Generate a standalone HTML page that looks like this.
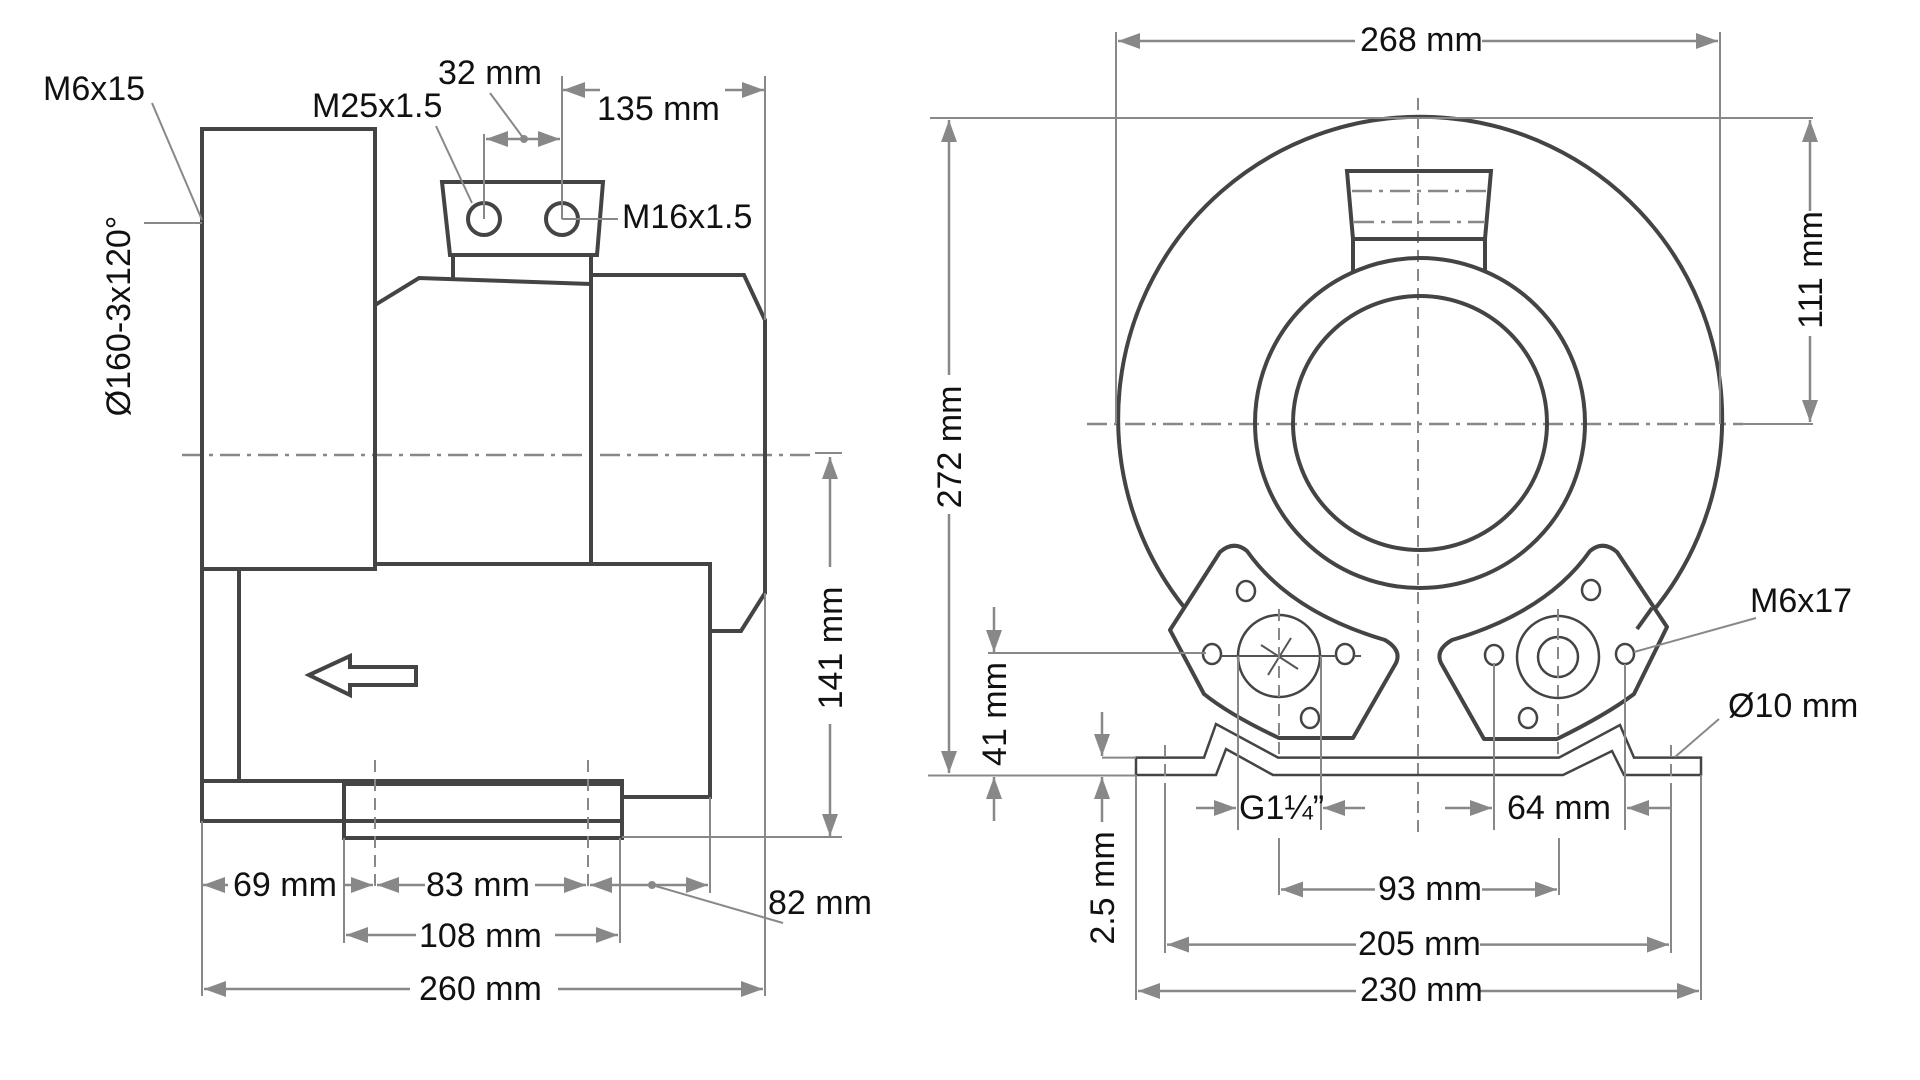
<!DOCTYPE html>
<html><head><meta charset="utf-8"><style>
html,body{margin:0;padding:0;background:#fff;width:1920px;height:1080px;overflow:hidden}
svg{display:block}
text{font-family:"Liberation Sans",Arial,sans-serif;font-size:34px;fill:#111}
.o{fill:none;stroke:#444;stroke-width:4;stroke-linejoin:miter}
.ow{fill:#fff;stroke:#444;stroke-width:4;stroke-linejoin:round}
.t{fill:none;stroke:#555;stroke-width:2}
.d{fill:none;stroke:#888;stroke-width:2}
.c{fill:none;stroke:#888;stroke-width:2.5;stroke-dasharray:20 7 4 7}
.k{fill:none;stroke:#888;stroke-width:2;stroke-dasharray:12 7}
.a{fill:none;stroke:#888;stroke-width:2.5;marker-end:url(#ar)}
</style></head><body>
<svg width="1920" height="1080" viewBox="0 0 1920 1080" xmlns="http://www.w3.org/2000/svg">
<defs><marker id="ar" markerUnits="userSpaceOnUse" markerWidth="24" markerHeight="16" refX="22" refY="8" orient="auto"><path d="M0,0 L22,8 L0,16 Z" fill="#888"/></marker></defs>

<!-- ===== LEFT VIEW ===== -->
<line class="c" x1="182" y1="455" x2="815" y2="455"/>
<line class="d" x1="815" y1="453" x2="842" y2="453"/>
<rect class="o" x="202" y="129" width="173" height="440"/>
<rect class="o" x="202" y="569" width="37" height="212"/>
<polyline class="o" points="375,564 710,564 710,797 622,797"/>
<polyline class="o" points="375,569 375,305 419,278 591,284"/>
<line class="o" x1="591" y1="275" x2="591" y2="564"/>
<polyline class="o" points="591,275 744,275 765,320 765,593 741,631 710,631"/>
<line class="o" x1="453" y1="255" x2="453" y2="280"/>
<line class="o" x1="591" y1="255" x2="591" y2="284"/>
<polygon class="o" points="442,182 603,182 597,255 450,255"/>
<circle class="o" cx="484" cy="219" r="16"/>
<circle class="o" cx="562" cy="219" r="16"/>
<rect class="o" x="202" y="781" width="420" height="40"/>
<rect class="o" x="344" y="784" width="278" height="54"/>
<polygon class="o" points="309,675 350,656 350,667 416,667 416,685 350,685 350,695"/>
<line class="k" x1="375" y1="760" x2="375" y2="893"/>
<line class="k" x1="588" y1="760" x2="588" y2="893"/>

<!-- left dims -->
<line class="d" x1="484" y1="134" x2="484" y2="219"/>
<line class="d" x1="562" y1="76" x2="562" y2="219"/>
<line class="d" x1="765" y1="76" x2="765" y2="320"/>
<line class="a" x1="524" y1="139" x2="486" y2="139"/>
<line class="a" x1="524" y1="139" x2="560" y2="139"/>
<circle cx="524" cy="139" r="4" fill="#888"/>
<line class="d" x1="524" y1="139" x2="490" y2="93"/>
<line class="a" x1="600" y1="90" x2="563" y2="90"/>
<line class="a" x1="725" y1="90" x2="764" y2="90"/>
<line class="d" x1="436" y1="126" x2="472" y2="203"/>
<line class="d" x1="562" y1="219" x2="618" y2="219"/>
<line class="d" x1="152" y1="103" x2="202" y2="220"/>
<line class="d" x1="144" y1="223" x2="202" y2="223"/>
<text x="43" y="100">M6x15</text>
<text x="438" y="84">32 mm</text>
<text x="312" y="117">M25x1.5</text>
<text x="597" y="120">135 mm</text>
<text x="622" y="228">M16x1.5</text>
<text transform="translate(130,316) rotate(-90)" text-anchor="middle">Ø160-3x120°</text>

<!-- 141 -->
<line class="d" x1="622" y1="837" x2="842" y2="837"/>
<line class="a" x1="830" y1="567" x2="830" y2="457"/>
<line class="a" x1="830" y1="724" x2="830" y2="836"/>
<text transform="translate(842,648) rotate(-90)" text-anchor="middle">141 mm</text>

<!-- bottom ext lines -->
<line class="d" x1="202" y1="821" x2="202" y2="996"/>
<line class="d" x1="344" y1="838" x2="344" y2="943"/>
<line class="d" x1="620" y1="838" x2="620" y2="943"/>
<line class="d" x1="710" y1="797" x2="710" y2="893"/>
<line class="d" x1="765" y1="593" x2="765" y2="996"/>
<line class="a" x1="228" y1="885" x2="203" y2="885"/>
<line class="a" x1="345" y1="885" x2="373" y2="885"/>
<line class="a" x1="425" y1="885" x2="377" y2="885"/>
<line class="a" x1="535" y1="885" x2="586" y2="885"/>
<line class="a" x1="652" y1="885" x2="590" y2="885"/>
<line class="a" x1="652" y1="885" x2="708" y2="885"/>
<circle cx="652" cy="885" r="4" fill="#888"/>
<line class="d" x1="652" y1="885" x2="783" y2="923"/>
<text x="233" y="896">69 mm</text>
<text x="426" y="896">83 mm</text>
<text x="768" y="914">82 mm</text>
<line class="a" x1="416" y1="935" x2="346" y2="935"/>
<line class="a" x1="555" y1="935" x2="618" y2="935"/>
<text x="419" y="947">108 mm</text>
<line class="a" x1="410" y1="989" x2="204" y2="989"/>
<line class="a" x1="558" y1="989" x2="763" y2="989"/>
<text x="419" y="1000">260 mm</text>

<!-- ===== RIGHT VIEW ===== -->
<line class="c" x1="1087" y1="424" x2="1743" y2="424"/>
<line class="d" x1="1743" y1="424" x2="1813" y2="424"/>
<line class="k" x1="1418" y1="98" x2="1418" y2="834"/>
<path class="o" d="M1184,607 A302,302 0 1 1 1637,629"/>
<circle class="o" cx="1420" cy="423" r="165"/>
<circle class="o" cx="1420" cy="423" r="127"/>
<polygon class="o" points="1347,171 1491,171 1485,239 1353,239"/>
<line class="o" x1="1353" y1="239" x2="1353" y2="272"/>
<line class="o" x1="1485" y1="239" x2="1485" y2="272"/>
<line class="c" x1="1352" y1="191" x2="1486" y2="191"/>
<line class="c" x1="1354" y1="222" x2="1484" y2="222"/>

<!-- flanges -->
<path class="ow" d="M1170,630 L1220,552 Q1234,540 1247,551 Q1290,612 1385,640 Q1402,650 1396,663 L1353,738 L1279,738 Q1230,715 1204,694 Z"/>
<path class="ow" d="M1667,627 L1617,552 Q1603,540 1590,551 Q1547,612 1452,640 Q1435,650 1441,663 L1484,739 L1557,739 Q1606,715 1634,694 Z"/>
<line class="o" x1="1652" y1="608" x2="1637" y2="629"/>
<g fill="#fff" stroke="#444" stroke-width="2.5">
<ellipse cx="1246" cy="591" rx="9" ry="10"/>
<ellipse cx="1212" cy="654" rx="9" ry="10"/>
<ellipse cx="1345" cy="654" rx="9" ry="10"/>
<ellipse cx="1310" cy="718" rx="9" ry="10"/>
<ellipse cx="1591" cy="590" rx="9" ry="10"/>
<ellipse cx="1494" cy="655" rx="9" ry="10"/>
<ellipse cx="1625" cy="654" rx="9" ry="10"/>
<ellipse cx="1528" cy="718" rx="9" ry="10"/>
<circle cx="1279" cy="656" r="41" fill="none"/>
<circle cx="1558" cy="657" r="41" fill="none"/>
<circle cx="1558" cy="657" r="20" fill="none"/>
</g>
<line class="t" x1="1221" y1="656" x2="1336" y2="656"/>
<line class="t" x1="1354" y1="656" x2="1361" y2="656"/>
<line class="t" x1="1261" y1="645" x2="1298" y2="669"/>
<line class="t" x1="1268" y1="675" x2="1291" y2="638"/>
<line class="k" x1="1279" y1="609" x2="1279" y2="757"/>
<line class="k" x1="1558" y1="609" x2="1558" y2="757"/>

<!-- base plate -->
<path fill="none" stroke="#444" stroke-width="2.5" d="M1136,757.6 L1204,757.6 L1216,724 L1278,757.6 L1559,757.6 L1620,725 L1634,757.6 L1701,757.6 L1701,775 L1624,775 L1612,751 L1563,775 L1273,775 L1226,749 L1216,775 L1136,775 Z"/>
<line class="k" x1="1165" y1="745" x2="1165" y2="785"/>
<line class="k" x1="1671" y1="745" x2="1671" y2="785"/>
<line class="d" x1="1165" y1="785" x2="1165" y2="953"/>
<line class="d" x1="1671" y1="785" x2="1671" y2="953"/>

<!-- right dims -->
<line class="d" x1="1116" y1="32" x2="1116" y2="424"/>
<line class="d" x1="1720" y1="32" x2="1720" y2="424"/>
<line class="a" x1="1355" y1="41" x2="1118" y2="41"/>
<line class="a" x1="1482" y1="41" x2="1718" y2="41"/>
<text x="1360" y="51">268 mm</text>
<line class="d" x1="930" y1="118" x2="1813" y2="118"/>
<line class="a" x1="949" y1="375" x2="949" y2="120"/>
<line class="a" x1="949" y1="514" x2="949" y2="773"/>
<text transform="translate(961,447) rotate(-90)" text-anchor="middle">272 mm</text>
<line class="a" x1="1810" y1="211" x2="1810" y2="120"/>
<line class="a" x1="1810" y1="336" x2="1810" y2="422"/>
<text transform="translate(1822,270) rotate(-90)" text-anchor="middle">111 mm</text>
<line class="d" x1="928" y1="775.5" x2="1136" y2="775.5"/>

<line class="d" x1="988" y1="653" x2="1206" y2="653"/>
<line class="a" x1="994" y1="607" x2="994" y2="652"/>
<line class="a" x1="994" y1="821" x2="994" y2="777"/>
<text transform="translate(1006,714) rotate(-90)" text-anchor="middle">41 mm</text>
<line class="d" x1="1102" y1="757.6" x2="1136" y2="757.6"/>
<line class="a" x1="1102" y1="712" x2="1102" y2="756"/>
<line class="a" x1="1102" y1="822" x2="1102" y2="777"/>
<text transform="translate(1114,888) rotate(-90)" text-anchor="middle">2.5 mm</text>

<line class="d" x1="1238" y1="656" x2="1238" y2="830"/>
<line class="d" x1="1321" y1="656" x2="1321" y2="830"/>
<line class="d" x1="1494" y1="663" x2="1494" y2="830"/>
<line class="d" x1="1625" y1="664" x2="1625" y2="830"/>
<line class="a" x1="1196" y1="808" x2="1236" y2="808"/>
<line class="a" x1="1365" y1="808" x2="1323" y2="808"/>
<text x="1239" y="819">G1¼”</text>
<line class="a" x1="1445" y1="808" x2="1492" y2="808"/>
<line class="a" x1="1670" y1="808" x2="1627" y2="808"/>
<text x="1507" y="819">64 mm</text>

<line class="d" x1="1279" y1="838" x2="1279" y2="895"/>
<line class="d" x1="1559" y1="838" x2="1559" y2="895"/>
<line class="a" x1="1375" y1="889.5" x2="1281" y2="889.5"/>
<line class="a" x1="1482" y1="889.5" x2="1557" y2="889.5"/>
<text x="1378" y="900">93 mm</text>
<line class="d" x1="1136" y1="775" x2="1136" y2="1000"/>
<line class="d" x1="1701" y1="775" x2="1701" y2="1000"/>
<line class="a" x1="1356" y1="944.6" x2="1167" y2="944.6"/>
<line class="a" x1="1480" y1="944.6" x2="1669" y2="944.6"/>
<text x="1358" y="955">205 mm</text>
<line class="a" x1="1356" y1="991" x2="1138" y2="991"/>
<line class="a" x1="1480" y1="991" x2="1699" y2="991"/>
<text x="1360" y="1001">230 mm</text>

<line class="d" x1="1756" y1="618" x2="1634" y2="652"/>
<text x="1750" y="612">M6x17</text>
<line class="d" x1="1719" y1="719" x2="1675" y2="757"/>
<text x="1728" y="717">Ø10 mm</text>
</svg>
</body></html>
